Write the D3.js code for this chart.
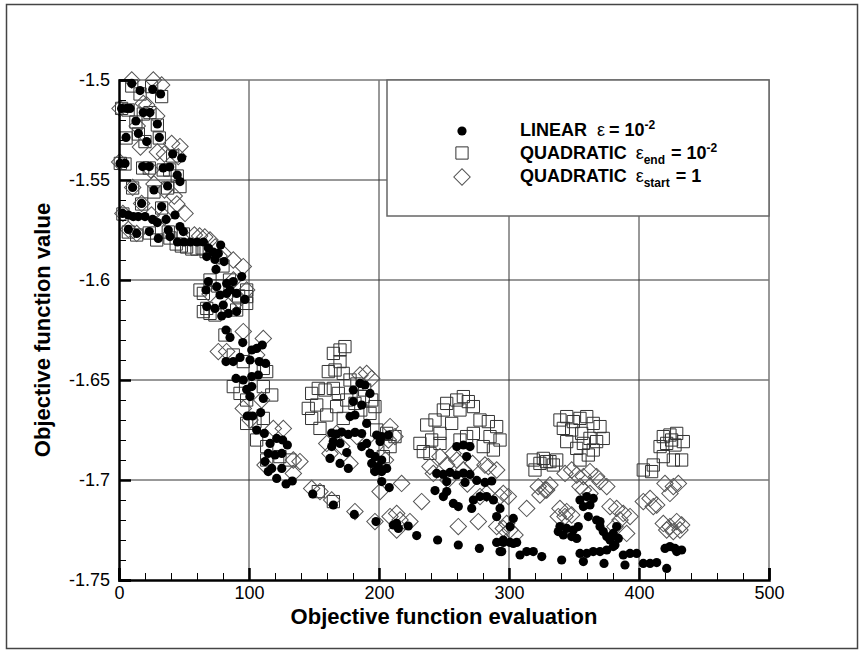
<!DOCTYPE html>
<html>
<head>
<meta charset="utf-8">
<script src="https://cdn.jsdelivr.net/npm/d3@7"></script>
<style>
  body { margin: 0; background: #fff; }
  svg { display: block; font-family: "Liberation Sans", Arial, Helvetica, sans-serif; }
</style>
</head>
<body>
<div class="canvas"></div>
<script>
// axis ticks
const xMajorTicks = [0, 100, 200, 300, 400, 500];
const yMajorTicks = [-1.5, -1.55, -1.6, -1.65, -1.7, -1.75];

// LINEAR eps = 1e-2  (filled circles), [evaluation, objective]
const linearPts = [
  [9.8,-1.5017],[16.2,-1.5053],[25.9,-1.5047],[32,-1.507],
  [2,-1.5142],[6,-1.5142],[8.5,-1.5142],[18.7,-1.5163],[23.8,-1.5163],
  [13,-1.5205],[29.5,-1.522],[5.4,-1.5287],[14.9,-1.5267],[21.3,-1.5308],[31,-1.5287],
  [0.8,-1.5417],[4.6,-1.5417],[18.2,-1.5433],[23.3,-1.5433],[34,-1.544],[39,-1.5435],
  [41.3,-1.537],[48.2,-1.539],[44.8,-1.5475],[46.9,-1.5508],
  [10.5,-1.5537],[26.9,-1.555],[37.4,-1.553],[17.4,-1.5617],[32.8,-1.5633],
  [2.8,-1.5667],[7.2,-1.5675],[11,-1.5683],[14.8,-1.5683],[20,-1.5683],[25.9,-1.5697],[29.5,-1.5713],[36.2,-1.5697],[43.1,-1.5675],
  [7.2,-1.5747],[13.6,-1.5767],[23.3,-1.5758],[30.2,-1.5792],[37.9,-1.575],[39.2,-1.5783],[46.9,-1.5733],[49.5,-1.5758],
  [45,-1.581],[50,-1.581],[55,-1.581],[60,-1.581],[65,-1.581],
  [68.7,-1.584],[72.5,-1.586],[76.4,-1.5867],[78.2,-1.5825],[67.5,-1.5883],[73.8,-1.5897],[80.8,-1.5908],[74.6,-1.5947],
  [68.7,-1.6008],[66.9,-1.605],[87.9,-1.6008],[94.4,-1.5983],[85.4,-1.605],[90.5,-1.6067],[96.9,-1.6097],[77.7,-1.6075],[82.8,-1.6067],
  [67.5,-1.6133],[73.8,-1.6142],[79,-1.618],[84.1,-1.6167],
  [75.2,-1.6033],[82.8,-1.6017],[90.5,-1.6158],[80.2,-1.6125],
  [82.3,-1.625],[85.4,-1.6287],[95.2,-1.6313],[102.1,-1.635],[105.9,-1.6342],[110.2,-1.6325],
  [82.3,-1.6408],[87.9,-1.6408],[93.1,-1.6387],[100.8,-1.64],[107.9,-1.6408],[112.8,-1.6417],
  [90,-1.6492],[95.6,-1.65],[102.1,-1.6483],[107.2,-1.6475],
  [98.2,-1.6547],[102.1,-1.6533],[100.8,-1.6583],[111,-1.6592],[109,-1.6663],
  [98.7,-1.668],[102.8,-1.668],[105.9,-1.675],[111.8,-1.6767],
  [116.2,-1.6817],[121.3,-1.6792],[125.9,-1.68],[129.5,-1.6825],
  [114.8,-1.6867],[120,-1.6875],[125.2,-1.6867],[112.3,-1.6908],[117.5,-1.6942],[125.2,-1.6942],
  [114.8,-1.6958],[121.3,-1.6992],[128.5,-1.702],[133.3,-1.7005],
  [149,-1.707],[164.9,-1.7125],[181,-1.7172],[197.7,-1.7208],
  [211,-1.7225],[214.9,-1.7242],[222.5,-1.723],[213.6,-1.7217],
  [229,-1.7278],[245.1,-1.73],[261,-1.7325],[277.2,-1.7342],
  [293.1,-1.7358],[308.5,-1.7375],[313.6,-1.7358],[318.7,-1.7358],[325.2,-1.7383],
  [290.5,-1.7312],[295.6,-1.7312],[300.8,-1.7312],[305.9,-1.7312],
  [290.5,-1.7183],[303.3,-1.7192],[293.1,-1.7142],[288,-1.71],[282.8,-1.7083],
  [272.6,-1.71],[277.7,-1.7083],[271.3,-1.7142],[257.2,-1.7117],[261,-1.7133],
  [249.5,-1.7083],[243.1,-1.7053],[252.1,-1.7058],
  [244.4,-1.6967],[249.5,-1.6972],[254.6,-1.6962],[259.7,-1.6975],[264.9,-1.6965],[270,-1.6972],
  [252.1,-1.7008],[266.2,-1.7012],[275.2,-1.7002],[281.5,-1.7012],[286.7,-1.7005],
  [259.8,-1.6833],[264.9,-1.6825],[270,-1.6833],[267.4,-1.6883],
  [163.6,-1.6765],[167.4,-1.677],[171.3,-1.676],[176.4,-1.6772],[181.5,-1.6762],[186.7,-1.6768],
  [163.6,-1.6833],[170,-1.6817],[164.8,-1.6808],
  [162.3,-1.6892],[170,-1.6917],[175.2,-1.6863],[176.4,-1.6942],
  [180.2,-1.655],[185.4,-1.6517],[189.2,-1.6525],[193.1,-1.6567],
  [180.2,-1.6608],[186.7,-1.6625],[181.5,-1.6675],[177.7,-1.6683],[190.5,-1.6717],
  [186.7,-1.6833],[190.5,-1.6817],
  [193.1,-1.6867],[196.9,-1.6883],[202.1,-1.69],[199.5,-1.6933],[196.9,-1.6958],[202.1,-1.6958],[205.9,-1.6942],[194.4,-1.6917],
  [198.2,-1.6775],[202.1,-1.6783],[207.2,-1.6775],[200.8,-1.6808],
  [202.1,-1.7008],[207.9,-1.7038],
  [300.8,-1.7233],[295.6,-1.73],[303.3,-1.7317],[294.4,-1.7358],
  [340.5,-1.74],[354.6,-1.7367],[359.8,-1.7367],[364.8,-1.7358],[370,-1.7358],[375.2,-1.735],[380.2,-1.7333],
  [357.2,-1.7408],[373.1,-1.7417],[389.2,-1.7425],
  [387.9,-1.7375],[393.1,-1.7367],[398.2,-1.7367],
  [403.3,-1.7417],[408.5,-1.7417],[413.6,-1.7413],[421.3,-1.7442],
  [420,-1.7342],[423.8,-1.7333],[427.7,-1.7342],[432.8,-1.735],[429,-1.7358],
  [339.2,-1.7233],[344.4,-1.7242],[349.5,-1.725],[341.8,-1.7275],[348.2,-1.7283],[352.1,-1.7292],[337.9,-1.7258],[353.3,-1.7233],
  [354.6,-1.71],[359.8,-1.7083],[364.8,-1.7092],[362.3,-1.7125],[357.2,-1.7133],[361,-1.7183],[367.4,-1.72],[370,-1.7233],
  [372.5,-1.7258],[375.2,-1.7283],[377.7,-1.73],[380.2,-1.7267],[382.8,-1.7233],[384.1,-1.7292],[381.5,-1.7325],[370,-1.7208]
];

// QUADRATIC eps_end = 1e-2  (open squares)
const quadEndPts = [
  [9.8,-1.503],[16.2,-1.507],[25.1,-1.5033],[32.8,-1.5083],
  [2,-1.5142],[7,-1.515],[18.7,-1.517],[23.8,-1.5163],
  [13,-1.521],[29.5,-1.5225],[5.4,-1.529],[14.9,-1.527],[20,-1.5308],[31,-1.529],
  [1,-1.5417],[4.6,-1.542],[18.2,-1.544],[23.3,-1.544],[34,-1.545],[39,-1.545],
  [41.3,-1.538],[46.9,-1.5533],[44.8,-1.548],
  [10.5,-1.554],[26.9,-1.556],[37.4,-1.554],[17.4,-1.562],[32.8,-1.564],
  [3,-1.567],[7.2,-1.576],[13.6,-1.5775],[23.3,-1.5765],[29,-1.58],[37.9,-1.576],[39.2,-1.579],[49.5,-1.577],
  [44,-1.582],[48,-1.583],[52,-1.5835],[56,-1.5845],[60,-1.5845],[64,-1.584],[67,-1.5858],
  [70,-1.6],[76,-1.603],[85,-1.6],[92,-1.608],[80,-1.593],
  [62.3,-1.605],[64.9,-1.6067],[98.2,-1.6083],[67.5,-1.6142],[73.8,-1.6175],[90.5,-1.615],
  [64.9,-1.6158],[70,-1.6167],[98.2,-1.6117],[98.2,-1.605],[81.5,-1.6275],
  [87.9,-1.6375],[95.6,-1.6408],[111,-1.6442],[113.6,-1.6458],
  [87.9,-1.6533],[93.1,-1.6567],[98.2,-1.66],[111,-1.6533],[117.5,-1.6575],
  [98.2,-1.6717],[104.6,-1.6708],[111,-1.6692],
  [105.9,-1.68],[113.6,-1.6833],[113.6,-1.69],[123.8,-1.6883],[131.5,-1.69],
  [153.3,-1.7058],[164.9,-1.7108],
  [164.9,-1.6367],[170,-1.635],[173.8,-1.6333],[170,-1.6408],
  [161,-1.6458],[166.2,-1.645],[172.5,-1.6467],[177.7,-1.65],
  [148.2,-1.6567],[153.3,-1.6542],[158.5,-1.655],[164.9,-1.6542],[168.7,-1.6567],
  [145.6,-1.6642],[152.1,-1.6625],[148.2,-1.6692],[154.6,-1.6742],[159.8,-1.6675],[167.4,-1.6633],[172.5,-1.6692],
  [175.2,-1.66],[181.5,-1.6617],[187.9,-1.6583],[194.4,-1.66],[196.9,-1.6633],[193.1,-1.6667],
  [183,-1.652],[189,-1.655],[186,-1.665],
  [198.2,-1.675],[205.9,-1.6767],[212.3,-1.6783],[208.5,-1.6833],[203.3,-1.6883],[198.2,-1.6933],
  [231.5,-1.6817],[236.7,-1.6725],[243.1,-1.67],[249.5,-1.665],[252.1,-1.6617],[259.8,-1.66],[264.9,-1.6583],[268.7,-1.6608],
  [272.6,-1.6633],[262.3,-1.665],[255.9,-1.6717],[246.9,-1.6767],[240.5,-1.68],[234.1,-1.6858],[239.2,-1.6867],[246.9,-1.6817],
  [277.7,-1.67],[284.1,-1.6708],[290.5,-1.6733],[293.1,-1.68],[285.4,-1.6783],[280.2,-1.6833],[288,-1.685],[272.6,-1.6767],[267.4,-1.6783],[262.3,-1.68],
  [318.7,-1.69],[323.8,-1.6917],[328.9,-1.6908],[320,-1.695],
  [326.4,-1.6892],[331.5,-1.6908],[336.7,-1.69],[334.1,-1.6925],
  [339.2,-1.67],[344.4,-1.6683],[349.5,-1.6708],[354.6,-1.6692],[359.8,-1.6683],[364.8,-1.6717],[370,-1.6733],[341.8,-1.6742],
  [348.2,-1.675],[355.9,-1.6767],[362.3,-1.6792],[367.4,-1.6808],[372.5,-1.6792],[357.2,-1.6817],[352.1,-1.6842],[344.4,-1.6808],
  [361,-1.6875],[354.6,-1.69],[364.8,-1.685],
  [403.3,-1.695],[409.7,-1.6958],[411,-1.6925],
  [418.7,-1.6883],[426.4,-1.69],[432.8,-1.69],[418.7,-1.6783],[423.8,-1.6775],[429,-1.6767],[434.1,-1.6808],[421.3,-1.6817],
  [427.7,-1.6825],[425.1,-1.68],[416.2,-1.6833]
];

// QUADRATIC eps_start = 1  (open diamonds)
const quadStartPts = [
  [9.8,-1.5],[26.4,-1.5],[32.8,-1.5025],[18.7,-1.5117],[21.3,-1.5125],[0.8,-1.5142],
  [29,-1.518],[14,-1.523],[40.5,-1.5317],[46.9,-1.5333],[45.6,-1.5383],
  [16.5,-1.5335],[29.5,-1.536],[35,-1.537],[0.5,-1.541],[24.5,-1.545],
  [26.9,-1.552],[10.5,-1.5537],[35,-1.555],[42.5,-1.558],[44.5,-1.562],[17.4,-1.5617],
  [50.8,-1.5667],[3,-1.5667],[7.2,-1.5747],[13.6,-1.5767],[25,-1.5675],[35,-1.5685],
  [58,-1.5775],[62,-1.578],[66,-1.5785],[70,-1.58],[74,-1.5835],[77,-1.588],
  [80.2,-1.5867],[87.9,-1.59],[95.6,-1.5933],[98.2,-1.605],[88,-1.6],[70,-1.607],
  [84,-1.613],[92,-1.61],
  [95.6,-1.6258],[111,-1.6292],[105.9,-1.6375],[82.8,-1.6358],[76.4,-1.6358],
  [95.6,-1.6642],[109.7,-1.66],[100.8,-1.67],
  [118.7,-1.6742],[126.4,-1.6742],[134.1,-1.69],[139.2,-1.6908],[134.1,-1.6967],[112.3,-1.6925],
  [148.2,-1.7042],[154.6,-1.7058],[163.6,-1.71],
  [181.5,-1.7158],[196.9,-1.7208],[200.8,-1.7058],[217.4,-1.7017],
  [208.5,-1.6733],[207.2,-1.68],[212.3,-1.6783],
  [190.5,-1.6467],[185.4,-1.6475],[194.4,-1.6492],
  [159.8,-1.6817],[162.3,-1.6867],[177.7,-1.6917],[171.3,-1.6833],[167.4,-1.6767],
  [183,-1.6783],[197,-1.6833],[205,-1.69],[200,-1.6925],
  [208.5,-1.7183],[213.6,-1.725],[216.2,-1.72],[223.8,-1.7208],[213.6,-1.7167],
  [232.8,-1.7108],
  [241.8,-1.6967],[239.2,-1.6933],[246.9,-1.6883],[252.1,-1.6925],[259.8,-1.69],
  [257,-1.6867],[265,-1.695],[272,-1.6917],[253,-1.7],[268,-1.702],
  [261,-1.7233],[276.4,-1.7208],
  [284.1,-1.6933],[290.5,-1.695],[281.5,-1.6925],
  [295.6,-1.7067],[299.5,-1.7083],[293.1,-1.7083],
  [290.5,-1.7233],[295.6,-1.7242],[300.8,-1.725],[304.6,-1.7275],[298.2,-1.7217],
  [313.6,-1.7142],[322.5,-1.7033],[329,-1.705],[277.7,-1.7083],[282.8,-1.7067],
  [327.7,-1.705],[331.5,-1.7025],[323.8,-1.7075],
  [343.1,-1.6967],[348.2,-1.695],[352.1,-1.6975],[357.2,-1.6983],[362.3,-1.6958],[367.4,-1.6983],[370,-1.7008],[375.2,-1.7033],
  [357.2,-1.705],[362.3,-1.7067],[354.6,-1.7033],
  [339.2,-1.7142],[344.4,-1.7158],[348.2,-1.7175],[343.1,-1.7183],[337.9,-1.7183],
  [377.7,-1.7133],[382.8,-1.7142],[387.9,-1.7167],[393.1,-1.7183],[385.4,-1.72],[390.5,-1.7267],[381.5,-1.7233],
  [403.3,-1.7108],[408.5,-1.7092],[413.6,-1.7125],[411,-1.7133],
  [420,-1.7017],[426.4,-1.7033],[430.3,-1.7017],[423.8,-1.7067],
  [418.7,-1.7217],[423.8,-1.7233],[429,-1.7208],[432.8,-1.7225],[426.4,-1.7258],[431.5,-1.725],[421.3,-1.725]
];

const width = 864;
const height = 653;
const margin = { top: 80, right: 95, bottom: 73, left: 119 };
const graphWidth = width - margin.left - margin.right;
const graphHeight = height - margin.top - margin.bottom;

const svg = d3.select(".canvas")
  .append("svg")
  .attr("width", width)
  .attr("height", height);

// outer frame
svg.append("rect")
  .attr("x", 6.5).attr("y", 4.5)
  .attr("width", 851).attr("height", 644)
  .attr("fill", "none")
  .attr("stroke", "#444")
  .attr("stroke-width", 1.5);

const graph = svg.append("g")
  .attr("transform", `translate(${margin.left}, ${margin.top})`);

const x = d3.scaleLinear().domain([0, 500]).range([0, graphWidth]);
const y = d3.scaleLinear().domain([-1.75, -1.5]).range([graphHeight, 0]);

// grid lines
const grid = graph.append("g").attr("class", "grid")
  .attr("stroke", "#333").attr("stroke-width", 1);
grid.selectAll(".gx").data(xMajorTicks.slice(1, -1)).enter().append("line")
  .attr("x1", d => x(d)).attr("x2", d => x(d))
  .attr("y1", 0).attr("y2", graphHeight);
grid.selectAll(".gy").data(yMajorTicks.slice(1, -1)).enter().append("line")
  .attr("y1", d => y(d)).attr("y2", d => y(d))
  .attr("x1", 0).attr("x2", graphWidth);

// top / right frame of the plot
graph.append("path")
  .attr("d", `M0,0H${graphWidth}V${graphHeight}`)
  .attr("fill", "none")
  .attr("stroke", "#777")
  .attr("stroke-width", 1.5);

// markers
const squareSym = d3.symbol().type(d3.symbolSquare).size(150);
const diamondSym = d3.symbol().type(d3.symbolSquare).size(135);

graph.append("g").selectAll("path")
  .data(quadEndPts).enter().append("path")
  .attr("d", squareSym)
  .attr("transform", d => `translate(${x(d[0])},${y(d[1])})`)
  .attr("fill", "none")
  .attr("stroke", "#333")
  .attr("stroke-width", 1);

graph.append("g").selectAll("path")
  .data(quadStartPts).enter().append("path")
  .attr("d", diamondSym)
  .attr("transform", d => `translate(${x(d[0])},${y(d[1])}) rotate(45)`)
  .attr("fill", "none")
  .attr("stroke", "#555")
  .attr("stroke-width", 1);

graph.append("g").selectAll("circle")
  .data(linearPts).enter().append("circle")
  .attr("cx", d => x(d[0]))
  .attr("cy", d => y(d[1]))
  .attr("r", 4.6)
  .attr("fill", "#000");

// legend
const legend = svg.append("g");
legend.append("rect")
  .attr("x", 387).attr("y", 80)
  .attr("width", 382).attr("height", 136)
  .attr("fill", "#fff")
  .attr("stroke", "#666")
  .attr("stroke-width", 1.5);

legend.append("circle").attr("cx", 462).attr("cy", 131).attr("r", 4.6).attr("fill", "#000");
legend.append("path").attr("d", squareSym)
  .attr("transform", "translate(462,153)")
  .attr("fill", "none").attr("stroke", "#333");
legend.append("path").attr("d", diamondSym)
  .attr("transform", "translate(462,177) rotate(45)")
  .attr("fill", "none").attr("stroke", "#555");

const lt = legend.append("g")
  .attr("font-size", 18)
  .attr("font-weight", "bold")
  .attr("fill", "#000");

const l1 = lt.append("text").attr("x", 520).attr("y", 136);
l1.append("tspan").text("LINEAR");
l1.append("tspan").attr("dx", 10).attr("font-weight", "normal").text("ε");
l1.append("tspan").attr("dx", 4).text("= 10");
l1.append("tspan").attr("dy", -7).attr("font-size", 12).text("-2");

const l2 = lt.append("text").attr("x", 520).attr("y", 159);
l2.append("tspan").text("QUADRATIC");
l2.append("tspan").attr("dx", 9).attr("font-weight", "normal").text("ε");
l2.append("tspan").attr("dy", 5).attr("font-size", 12).text("end");
l2.append("tspan").attr("dx", 6).attr("dy", -5).text("= 10");
l2.append("tspan").attr("dy", -7).attr("font-size", 12).text("-2");

const l3 = lt.append("text").attr("x", 520).attr("y", 182);
l3.append("tspan").text("QUADRATIC");
l3.append("tspan").attr("dx", 9).attr("font-weight", "normal").text("ε");
l3.append("tspan").attr("dy", 5).attr("font-size", 12).text("start");
l3.append("tspan").attr("dx", 6).attr("dy", -5).text("= 1");

// axes: minor ticks, then major ticks with labels
const xMinor = d3.axisBottom(x).tickValues(d3.range(0, 501, 20))
  .tickSize(-7).tickFormat("");
const yMinor = d3.axisLeft(y).tickValues(d3.range(-1.75, -1.4999, 0.01))
  .tickSize(-7).tickFormat("");
const xAxis = d3.axisBottom(x).tickValues(xMajorTicks)
  .tickSize(-12).tickPadding(6).tickFormat(d => String(d));
const yAxis = d3.axisLeft(y).tickValues(yMajorTicks)
  .tickSize(-12).tickPadding(9).tickFormat(d => String(d));

const xMinorGroup = graph.append("g").attr("transform", `translate(0,${graphHeight})`).call(xMinor);
const yMinorGroup = graph.append("g").call(yMinor);
const xAxisGroup = graph.append("g").attr("transform", `translate(0,${graphHeight})`).call(xAxis);
const yAxisGroup = graph.append("g").call(yAxis);

[xMinorGroup, yMinorGroup].forEach(g => {
  g.select(".domain").remove();
  g.selectAll("text").remove();
  g.selectAll("line").attr("stroke", "#000").attr("stroke-width", 1);
});
[xAxisGroup, yAxisGroup].forEach(g => {
  g.select(".domain").attr("stroke", "#000").attr("stroke-width", 2.5);
  g.selectAll("line").attr("stroke", "#000").attr("stroke-width", 2.5);
  g.selectAll("text")
    .attr("font-family", "'Liberation Sans', Arial, sans-serif")
    .attr("font-size", 18)
    .attr("fill", "#000");
});

// axis titles
svg.append("text")
  .attr("x", margin.left + graphWidth / 2)
  .attr("y", 624)
  .attr("text-anchor", "middle")
  .attr("font-size", 22)
  .attr("font-weight", "bold")
  .text("Objective function evaluation");

svg.append("text")
  .attr("transform", `translate(50, ${margin.top + graphHeight / 2}) rotate(-90)`)
  .attr("text-anchor", "middle")
  .attr("font-size", 22)
  .attr("font-weight", "bold")
  .text("Objective function value");
</script>
</body>
</html>
